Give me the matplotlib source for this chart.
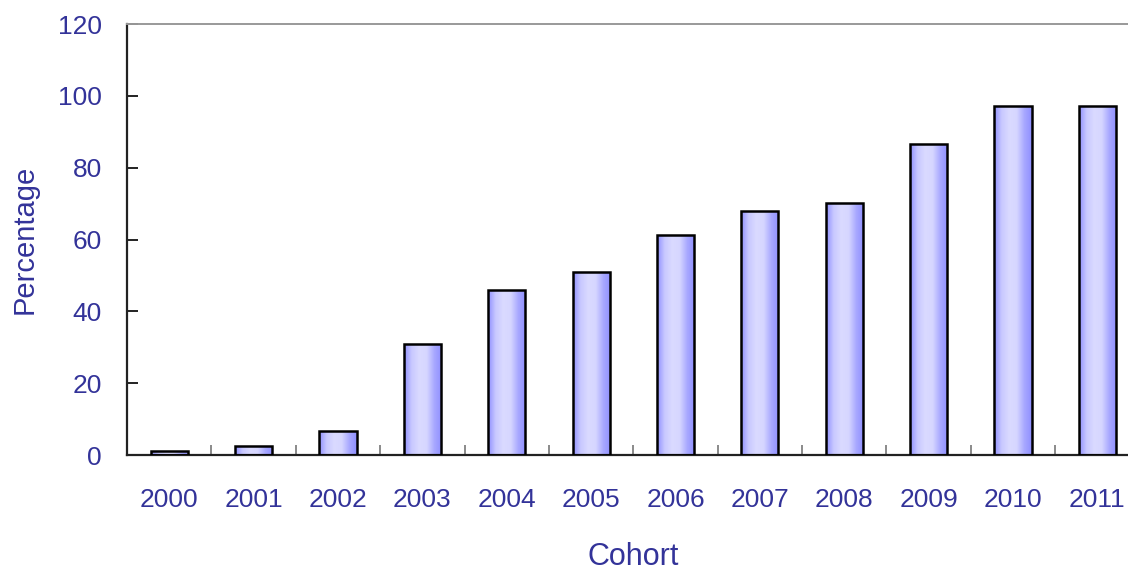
import numpy as np
import matplotlib.pyplot as plt
from matplotlib.colors import LinearSegmentedColormap

# cohort percentages
cohorts = ["2000", "2001", "2002", "2003", "2004", "2005",
           "2006", "2007", "2008", "2009", "2010", "2011"]
percentages = [1.1, 2.5, 6.7, 31.0, 46.0, 51.0, 61.3, 68.0, 70.2, 86.6, 97.2, 97.2]
y_ticks = [0, 20, 40, 60, 80, 100, 120]

text_color = "#333399"
plt.rcParams["font.family"] = ["Liberation Sans", "DejaVu Sans"]

fig = plt.figure(figsize=(11.28, 5.72), dpi=100)
ax = fig.add_axes([0.1126, 0.2045, 0.8977, 0.7535])

x = np.arange(len(cohorts))
width = 0.44

# horizontal shading inside each bar
shade = LinearSegmentedColormap.from_list(
    "barshade", ["#8f8fff", "#c8c8ff", "#dadaff", "#d6d6ff", "#a8a8ff", "#8f8fff"])
grad = np.linspace(0, 1, 256).reshape(1, -1)

bars = ax.bar(x, percentages, width=width, color="none",
              edgecolor="black", linewidth=1.8, zorder=3)
for b in bars:
    x0, y0 = b.get_x(), b.get_y()
    w, h = b.get_width(), b.get_height()
    im = ax.imshow(grad, cmap=shade, aspect="auto",
                   extent=(x0, x0 + w, y0, y0 + h), zorder=2)
    im.set_clip_path(b)

ax.set_xlim(-0.5, len(cohorts) - 0.5)
ax.set_ylim(0, 120)

ax.set_xticks(x)
ax.set_xticklabels(cohorts)
ax.set_xticks(x[:-1] + 0.5, minor=True)
ax.tick_params(axis="x", which="major", length=0, pad=24,
               labelsize=19, labelcolor=text_color)
ax.tick_params(axis="x", which="minor", direction="in", length=7,
               width=1.2, color="#777777")

ax.set_yticks(y_ticks)
ax.tick_params(axis="y", direction="in", length=8, width=1.4,
               color="#222222", pad=18, labelsize=19, labelcolor=text_color)

ax.spines["right"].set_visible(False)
ax.spines["top"].set_color("#999999")
ax.spines["top"].set_linewidth(1.4)
ax.spines["left"].set_color("#222222")
ax.spines["left"].set_linewidth(1.6)
ax.spines["bottom"].set_color("#222222")
ax.spines["bottom"].set_linewidth(1.6)

ax.set_xlabel("Cohort", fontsize=22, color=text_color, labelpad=21)
ax.set_ylabel("Percentage", fontsize=21, color=text_color, labelpad=14)

fig.savefig("out.png", dpi=100)
